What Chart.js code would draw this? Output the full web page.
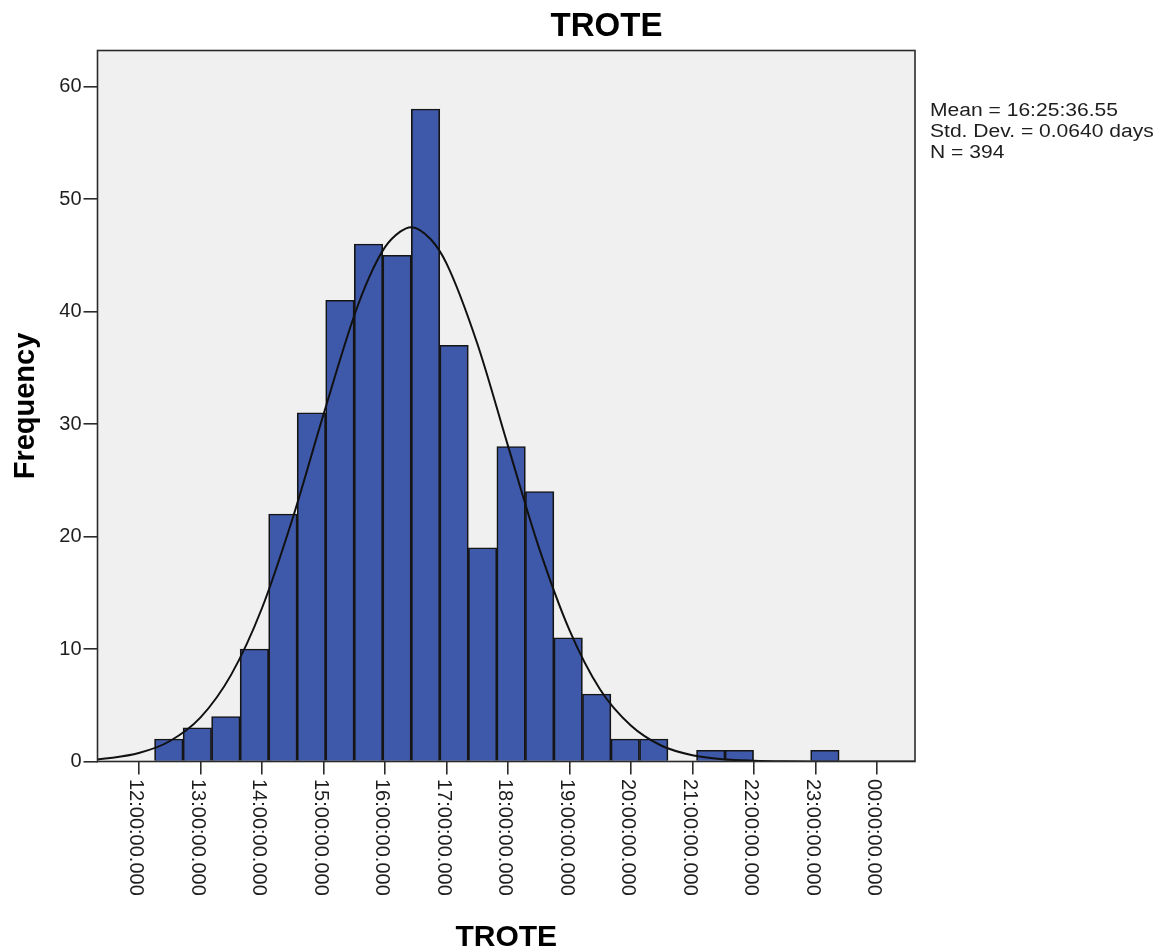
<!DOCTYPE html>
<html>
<head>
<meta charset="utf-8">
<script src="https://cdn.jsdelivr.net/npm/chart.js@4/dist/chart.umd.min.js"></script>
<style>
  html, body { margin: 0; padding: 0; background: #ffffff; }
  #wrap { width: 1172px; height: 949px; }
</style>
</head>
<body>
<div id="wrap"><canvas id="c" width="1172" height="949"></canvas></div>
<script>
// ---- data ----
const TITLE = 'TROTE';
const X_TITLE = 'TROTE';
const Y_TITLE = 'Frequency';
const HOUR_TICKS = [12, 13, 14, 15, 16, 17, 18, 19, 20, 21, 22, 23, 24];
const HOUR_LABELS = ['12:00:00.000', '13:00:00.000', '14:00:00.000', '15:00:00.000', '16:00:00.000',
  '17:00:00.000', '18:00:00.000', '19:00:00.000', '20:00:00.000', '21:00:00.000',
  '22:00:00.000', '23:00:00.000', '00:00:00.000'];
const Y_TICKS = [0, 10, 20, 30, 40, 50, 60];
const BIN_START = 12.2555;   // hours
const BIN_WIDTH = 0.4638;    // hours
const COUNTS = [2, 3, 4, 10, 22, 31, 41, 46, 45, 58, 37, 19, 28, 24, 11, 6, 2, 2, 0, 1, 1, 0, 0, 1];
const CURVE_X = [11.33, 11.5, 12, 12.5, 13, 13.5, 14, 14.5, 15, 15.5, 15.75, 16, 16.25, 16.43, 16.75, 17, 17.5, 18, 18.5, 19, 19.5, 20, 20.5, 21, 21.5, 22, 22.5, 23, 24, 24.62];
const CURVE_Y = [0.19, 0.28, 0.75, 1.8, 3.9, 7.7, 13.6, 21.6, 30.8, 39.6, 43.1, 45.7, 47.1, 47.5, 46.4, 44.3, 37.2, 28.1, 19.1, 11.7, 6.4, 3.2, 1.4, 0.56, 0.2, 0.07, 0.02, 0.01, 0, 0];
const STATS = ['Mean = 16:25:36.55', 'Std. Dev. = 0.0640 days', 'N = 394'];
const X_MIN = 11.328, X_MAX = 24.62, Y_MAX = 63.2;

const barData = COUNTS.map((c, i) => ({ x: BIN_START + BIN_WIDTH * (i + 0.5), y: c === 0 ? null : c }));
const curveData = CURVE_X.map((x, i) => ({ x: x, y: CURVE_Y[i] }));

const FONT = '"Liberation Sans", Arial, sans-serif';

const deco = {
  id: 'deco',
  beforeDraw(chart) {
    const { ctx, chartArea: a } = chart;
    ctx.save();
    ctx.fillStyle = '#f0f0f0';
    ctx.fillRect(a.left, a.top, a.right - a.left, a.bottom - a.top);
    ctx.restore();
  },
  afterDraw(chart) {
    const { ctx, chartArea: a } = chart;
    const xs = chart.scales.x;
    ctx.save();
    // frame
    ctx.strokeStyle = '#2b2b2b';
    ctx.lineWidth = 1.6;
    ctx.strokeRect(a.left, a.top, a.right - a.left, a.bottom - a.top);
    // rotated x tick labels (reading top to bottom)
    ctx.fillStyle = '#1e1e1e';
    ctx.font = '20px ' + FONT;
    ctx.textAlign = 'left';
    ctx.textBaseline = 'alphabetic';
    HOUR_TICKS.forEach((v, i) => {
      const px = xs.getPixelForValue(v);
      ctx.save();
      ctx.translate(px - 8.5, a.bottom + 17.5);
      ctx.rotate(Math.PI / 2);
      ctx.fillText(HOUR_LABELS[i], 0, 0);
      ctx.restore();
    });
    // titles
    ctx.fillStyle = '#000';
    ctx.textAlign = 'center';
    ctx.font = 'bold 33px ' + FONT;
    ctx.fillText(TITLE, 606.5, 36);
    ctx.font = 'bold 30px ' + FONT;
    ctx.fillText(X_TITLE, (a.left + a.right) / 2, 946);
    ctx.save();
    ctx.translate(33.5, (a.top + a.bottom) / 2);
    ctx.rotate(-Math.PI / 2);
    ctx.font = 'bold 29px ' + FONT;
    ctx.fillText(Y_TITLE, 0, 0);
    ctx.restore();
    // stats
    ctx.fillStyle = '#1e1e1e';
    ctx.textAlign = 'left';
    ctx.font = '18px ' + FONT;
    STATS.forEach((t, i) => {
      ctx.save();
      ctx.translate(930, 116 + i * 21);
      ctx.scale(1.17, 1);
      ctx.fillText(t, 0, 0);
      ctx.restore();
    });
    ctx.restore();
  }
};

new Chart(document.getElementById('c'), {
  type: 'bar',
  data: {
    datasets: [
      {
        type: 'line',
        data: curveData,
        borderColor: '#111111',
        borderWidth: 2,
        pointRadius: 0,
        cubicInterpolationMode: 'monotone',
        fill: false,
        order: 0
      },
      {
        type: 'bar',
        data: barData,
        backgroundColor: '#3e58aa',
        borderColor: '#151515',
        borderWidth: 1.7,
        barPercentage: 1,
        categoryPercentage: 1,
        grouped: false,
        order: 1
      }
    ]
  },
  options: {
    responsive: false,
    devicePixelRatio: 1,
    animation: false,
    layout: { padding: { top: 50.5, right: 257, left: 0, bottom: 0 } },
    plugins: { legend: { display: false }, tooltip: { enabled: false }, title: { display: false } },
    scales: {
      x: {
        type: 'linear',
        min: X_MIN,
        max: X_MAX,
        offset: false,
        afterBuildTicks: s => { s.ticks = HOUR_TICKS.map(v => ({ value: v })); },
        afterFit: s => { s.height = 187.5; },
        ticks: { display: false },
        grid: { display: true, offset: false, drawOnChartArea: false, drawTicks: true, tickLength: 13, color: '#2b2b2b', lineWidth: 1.6 },
        border: { display: false }
      },
      y: {
        type: 'linear',
        min: 0,
        max: Y_MAX,
        afterBuildTicks: s => { s.ticks = Y_TICKS.map(v => ({ value: v })); },
        afterFit: s => { s.width = 97.5; },
        ticks: { color: '#1e1e1e', font: { family: FONT, size: 20 }, padding: 2 },
        grid: { display: true, drawOnChartArea: false, drawTicks: true, tickLength: 14, color: '#2b2b2b', lineWidth: 1.6 },
        border: { display: false }
      }
    }
  },
  plugins: [deco]
});
</script>
</body>
</html>
